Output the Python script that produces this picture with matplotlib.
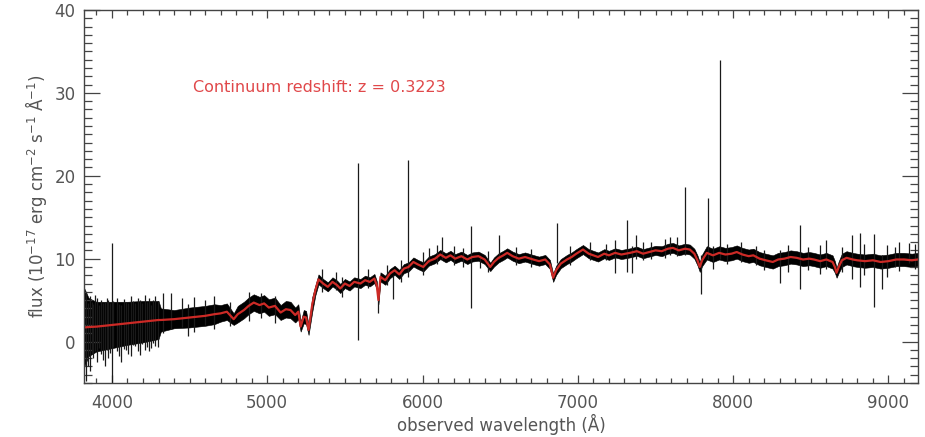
import matplotlib.pyplot as plt
from matplotlib.ticker import MultipleLocator

# continuum model (red line) and the half-width of the dense black spectrum around it
wave = [3820, 3850, 3900, 4000, 4100, 4200, 4300, 4315, 4400, 4500, 4600, 4660,
        4700, 4740, 4784, 4810, 4850, 4880, 4913, 4950, 4980, 5010,
        5050, 5086, 5120, 5150, 5180, 5200, 5215, 5235, 5250, 5266, 5290,
        5310, 5330, 5360, 5390, 5420, 5450, 5470, 5500, 5530, 5560,
        5600, 5630, 5660, 5690, 5705, 5716, 5729, 5760, 5790, 5820,
        5850, 5880, 5910, 5941, 5970, 6005, 6040, 6080, 6114, 6150,
        6180, 6210, 6250, 6288, 6320, 6360, 6400, 6436, 6460, 6490,
        6520, 6545, 6580, 6620, 6660, 6712, 6750, 6790, 6820, 6841,
        6860, 6890, 6930, 6960, 6990, 7033, 7070, 7100, 7130, 7170,
        7200, 7240, 7280, 7336, 7380, 7420, 7460, 7500, 7540, 7580,
        7612, 7650, 7690, 7721, 7750,
        7770, 7785, 7800, 7830, 7870, 7910, 7950, 7990, 8023, 8060,
        8100, 8130, 8170, 8210, 8255, 8290, 8330, 8370, 8409, 8450,
        8490, 8520, 8560, 8600, 8640, 8655, 8666, 8680, 8700, 8730,
        8770, 8800, 8850, 8900, 8950, 9000, 9050, 9100, 9150, 9190]
continuum = [1.7, 1.75, 1.8, 2.0, 2.2, 2.4, 2.6, 2.6, 2.7, 2.9, 3.1, 3.3,
             3.4, 3.6, 2.7, 3.3, 3.8, 4.3, 4.7, 4.4, 4.6, 4.1,
             4.3, 3.5, 3.9, 3.8, 3.2, 3.6, 1.8, 3.0, 2.9, 1.4, 4.5,
             6.2, 7.5, 7.0, 6.6, 7.2, 6.8, 6.4, 7.0, 6.7, 7.2,
             7.0, 7.4, 7.2, 7.6, 6.8, 5.0, 7.8, 7.4, 8.2, 8.6,
             8.1, 8.8, 9.0, 9.6, 9.3, 9.0, 9.7, 10.0, 10.5, 10.1,
             10.4, 10.0, 10.3, 9.9, 10.2, 10.3, 9.9, 9.0, 9.6, 10.1,
             10.4, 10.7, 10.3, 10.0, 10.2, 9.9, 9.7, 9.9, 9.3, 7.7,
             8.6, 9.4, 9.9, 10.2, 10.6, 11.1, 10.6, 10.4, 10.2, 10.6,
             10.4, 10.7, 10.5, 10.7, 10.9, 10.6, 10.8, 11.0, 10.9, 11.2,
             11.3, 11.0, 11.2, 11.1, 10.6,
             9.8, 9.0, 9.8, 10.7, 10.4, 10.7, 10.5, 10.6, 10.8, 10.5,
             10.3, 10.4, 10.0, 9.8, 9.6, 9.9, 10.0, 10.2, 10.1, 9.9,
             10.0, 9.9, 9.7, 9.9, 9.6, 9.0, 8.3, 9.0, 9.8, 10.1,
             9.9, 9.8, 9.7, 9.8, 9.6, 9.7, 9.9, 9.9, 9.8, 9.9]
scatter = [4.8, 3.5, 3.0, 2.8, 2.6, 2.5, 2.3, 1.4, 1.1, 1.2, 1.2, 1.2,
           1.0, 1.0, 0.7, 1.0, 1.0, 1.0, 1.0, 1.0, 1.0, 1.0,
           1.0, 0.9, 1.0, 1.0, 0.9, 0.9, 0.6, 0.8, 0.8, 0.6, 0.9,
           0.6, 0.6, 0.55, 0.55, 0.55, 0.55, 0.55, 0.55, 0.55, 0.55,
           0.55, 0.55, 0.55, 0.55, 0.5, 0.5, 0.55, 0.55, 0.55, 0.55,
           0.55, 0.55, 0.55, 0.55, 0.55, 0.55, 0.55, 0.55, 0.55, 0.55,
           0.55, 0.55, 0.55, 0.55, 0.55, 0.55, 0.55, 0.5, 0.55, 0.55,
           0.55, 0.55, 0.55, 0.55, 0.55, 0.55, 0.55, 0.55, 0.55, 0.5,
           0.55, 0.55, 0.55, 0.55, 0.55, 0.55, 0.55, 0.55, 0.55, 0.55,
           0.55, 0.55, 0.55, 0.55, 0.55, 0.55, 0.55, 0.55, 0.6, 0.6,
           0.6, 0.6, 0.6, 0.6, 0.6,
           0.6, 0.6, 0.7, 0.8, 0.8, 0.8, 0.8, 0.8, 0.8, 0.8,
           0.8, 0.8, 0.8, 0.8, 0.8, 0.8, 0.8, 0.8, 0.8, 0.8,
           0.8, 0.8, 0.8, 0.8, 0.8, 0.7, 0.6, 0.7, 0.8, 0.8,
           0.8, 0.8, 0.8, 0.8, 0.8, 0.8, 0.8, 0.8, 0.8, 0.8]

# single-pixel excursions: emission / sky lines and noise spikes
spike_wave = [3835, 3845, 3860, 3870, 3880, 3890, 3905, 3915, 3930, 3945,
              3955, 3965, 3975, 3985, 3998, 4010, 4030, 4045, 4060, 4075,
              4090, 4105, 4120, 4135, 4150, 4165, 4180, 4195, 4210, 4225,
              4240, 4250, 4265, 4280, 4295, 4330, 4380, 4450, 4490, 4530,
              4600, 4660, 4760, 4880, 4960, 5050,
              5350, 5440, 5480, 5587, 5650, 5710, 5770, 5812, 5860, 5906,
              6000, 6044, 6090, 6127, 6200, 6260, 6312, 6371, 6420, 6494,
              6600, 6700, 6866, 6950, 7080, 7180, 7239, 7316, 7348, 7374,
              7420, 7470, 7560, 7593, 7640, 7689, 7792, 7837, 7869, 7914,
              7960, 8050, 8150, 8200, 8300, 8350, 8428, 8480, 8560, 8600,
              8700, 8762, 8814, 8840, 8910, 8961, 8990, 9040, 9070, 9135,
              9170]
spike_bottom = [-4.8, -3.0, -3.5, -1.5, -2.0, -1.2, -2.5, -0.8, -1.5, -2.2,
                -3.0, -1.0, -2.0, -1.4, -5.0, -0.6, -1.2, -1.8, -2.5, -0.9,
                -1.0, -1.5, -1.8, -0.4, -0.5, -1.1, -1.6, -0.3, -1.0, -0.7,
                -1.2, -0.8, -0.2, -0.5, -0.6, 1.0, 1.5, 1.8, 0.7, 1.2,
                2.0, 1.5, 1.9, 2.5, 2.8, 2.2,
                6.0, 6.2, 5.4, 0.2, 6.5, 3.5, 6.8, 5.1, 7.2, 7.8,
                8.0, 9.5, 9.3, 10.0, 9.2, 9.0, 4.1, 8.9, 8.4, 10.0,
                9.2, 9.0, 9.5, 9.2, 9.8, 9.8, 8.3, 8.4, 8.3, 10.0,
                9.8, 10.0, 10.1, 10.5, 10.3, 10.5, 5.7, 10.0, 8.7, 10.0,
                9.4, 9.6, 9.2, 8.6, 7.1, 8.4, 6.3, 8.6, 8.2, 8.8,
                8.4, 7.5, 6.6, 8.0, 4.2, 6.3, 7.8, 9.0, 8.5, 9.5,
                8.7]
spike_top = [6.0, 4.6, 5.5, 4.8, 4.5, 5.6, 5.2, 4.4, 5.0, 4.7,
             4.8, 5.3, 5.0, 4.6, 11.9, 4.9, 5.3, 4.5, 4.4, 5.1,
             4.8, 4.6, 5.5, 4.9, 4.6, 5.2, 5.0, 4.7, 5.6, 4.8,
             5.2, 4.4, 5.0, 5.5, 4.9, 5.8, 5.9, 5.2, 4.5, 5.4,
             5.0, 5.5, 4.8, 6.0, 5.8, 5.5,
             8.8, 8.4, 7.8, 21.6, 8.8, 6.0, 9.2, 8.0, 9.8, 21.9,
             10.8, 11.3, 11.6, 12.6, 11.5, 11.3, 13.9, 10.5, 10.9, 12.8,
             11.4, 11.2, 14.3, 11.5, 12.0, 11.8, 12.3, 14.7, 11.5, 12.9,
             12.0, 12.0, 12.4, 12.6, 12.6, 18.7, 10.5, 17.3, 11.5, 34.0,
             11.8, 12.0, 11.5, 11.0, 11.1, 11.6, 14.1, 11.4, 11.6, 12.2,
             11.4, 12.9, 13.1, 11.8, 13.0, 10.5, 11.6, 11.4, 12.0, 11.9,
             11.8]

flux_lo = [c - s for c, s in zip(continuum, scatter)]
flux_hi = [c + s for c, s in zip(continuum, scatter)]

fig = plt.figure(figsize=(9.25, 4.37), dpi=100)
ax = fig.add_axes([0.0908, 0.1236, 0.9016, 0.8535])

ax.fill_between(wave, flux_lo, flux_hi, color='black', lw=0.4, edgecolor='black')
ax.vlines(spike_wave, spike_bottom, spike_top, color='#1a1a1a', lw=0.9)
ax.plot(wave, continuum, color='#cc2a26', lw=1.6)

ax.text(4520, 30.6, 'Continuum redshift: z = 0.3223', color='#e0484a',
        fontsize=11.5, va='center')

ax.set_xlim(3820, 9190)
ax.set_ylim(-5, 40)
ax.xaxis.set_major_locator(MultipleLocator(1000))
ax.xaxis.set_minor_locator(MultipleLocator(100))
ax.yaxis.set_major_locator(MultipleLocator(10))
ax.yaxis.set_minor_locator(MultipleLocator(1))
ax.tick_params(axis='both', which='both', direction='in', top=True, right=True,
               colors='#444444', labelcolor='#555555', labelsize=12, width=0.9)
ax.tick_params(axis='x', which='major', length=6, pad=8)
ax.tick_params(axis='x', which='minor', length=3.5)
ax.tick_params(axis='y', which='major', length=11.5, pad=6)
ax.tick_params(axis='y', which='minor', length=5.5)
for s in ax.spines.values():
    s.set_color('#444444')
    s.set_linewidth(1.0)

ax.set_xlabel('observed wavelength (Å)', color='#555555', fontsize=12, labelpad=1)
ax.set_ylabel('flux (10$^{-17}$ erg cm$^{-2}$ s$^{-1}$ Å$^{-1}$)', color='#555555',
              fontsize=12, labelpad=4)

plt.savefig('out.png', dpi=100)
